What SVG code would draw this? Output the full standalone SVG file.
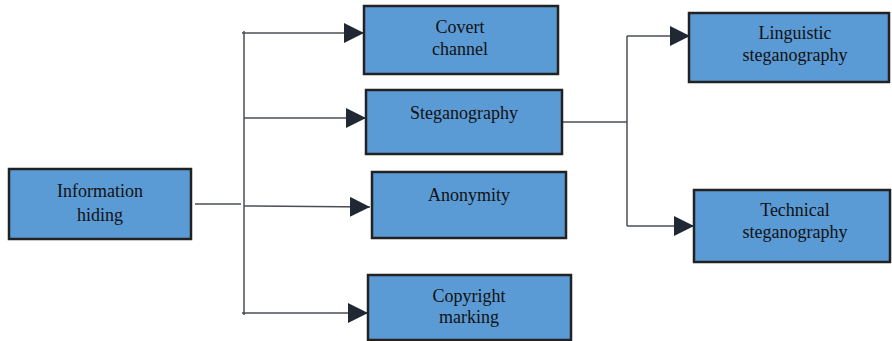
<svg xmlns="http://www.w3.org/2000/svg" width="892" height="341" viewBox="0 0 892 341">
<style>
.box{fill:#5b9bd5;stroke:#222;stroke-width:2.5}
.t{font-family:"Liberation Serif","Times New Roman",serif;font-size:18px;fill:#111;text-anchor:middle}
.c{fill:none;stroke:#4a4e54;stroke-width:1.5}
</style>
<defs>
<marker id="ah" markerUnits="userSpaceOnUse" markerWidth="22" markerHeight="22" refX="20" refY="10" orient="auto">
<path d="M0,0 L20,10 L0,20 Z" fill="#1f2833"/>
</marker>
</defs>
<rect width="892" height="341" fill="#fff"/>
<g id="connectors">
<line class="c" x1="195" y1="204" x2="241" y2="204"/>
<line class="c" x1="244" y1="31" x2="244" y2="315"/>
<line class="c" x1="242" y1="33" x2="364" y2="33" marker-end="url(#ah)"/>
<line class="c" x1="244" y1="118" x2="366" y2="118" marker-end="url(#ah)"/>
<line class="c" x1="244" y1="206" x2="370" y2="207" marker-end="url(#ah)"/>
<line class="c" x1="242" y1="313" x2="368" y2="313" marker-end="url(#ah)"/>
<polyline class="c" points="562,122 627,122"/>
<line class="c" x1="627" y1="36" x2="627" y2="226"/>
<line class="c" x1="627" y1="36" x2="690" y2="36" marker-end="url(#ah)"/>
<line class="c" x1="627" y1="226" x2="694" y2="226" marker-end="url(#ah)"/>
</g>
<g id="information-hiding">
<rect class="box" x="9" y="169" width="182" height="70"/>
<text class="t" x="100" y="197">Information</text>
<text class="t" x="100" y="221">hiding</text>
</g>
<g id="covert-channel">
<rect class="box" x="364" y="6" width="194" height="68"/>
<text class="t" x="460" y="33">Covert</text>
<text class="t" x="460" y="55">channel</text>
</g>
<g id="steganography">
<rect class="box" x="366" y="90" width="196" height="64"/>
<text class="t" x="464" y="119">Steganography</text>
</g>
<g id="anonymity">
<rect class="box" x="372" y="172" width="194" height="66"/>
<text class="t" x="469" y="201">Anonymity</text>
</g>
<g id="copyright-marking">
<rect class="box" x="368" y="275" width="203" height="65"/>
<text class="t" x="469" y="302">Copyright</text>
<text class="t" x="469" y="323">marking</text>
</g>
<g id="linguistic-steganography">
<rect class="box" x="689" y="13" width="200" height="69"/>
<text class="t" x="795" y="39">Linguistic</text>
<text class="t" x="795" y="61">steganography</text>
</g>
<g id="technical-steganography">
<rect class="box" x="694" y="190" width="196" height="72"/>
<text class="t" x="795" y="216">Technical</text>
<text class="t" x="795" y="238">steganography</text>
</g>
</svg>
